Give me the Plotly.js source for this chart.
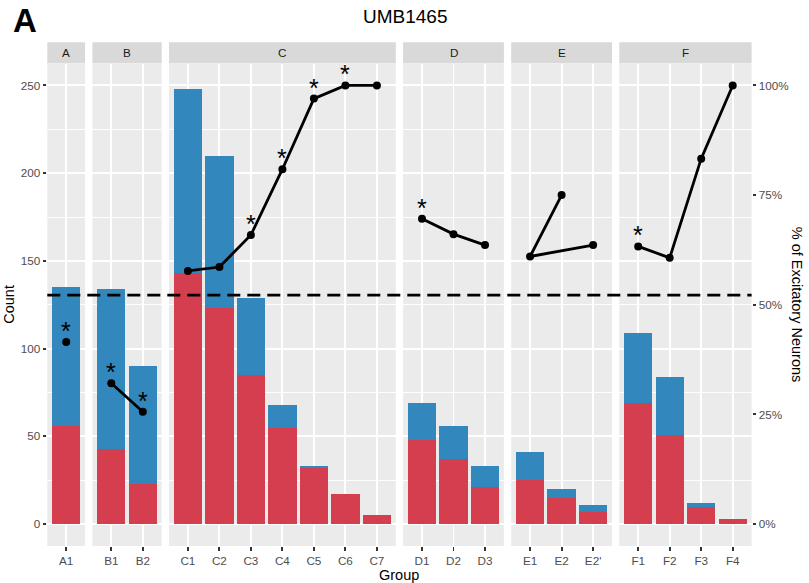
<!DOCTYPE html>
<html>
<head>
<meta charset="utf-8">
<script src="https://cdn.plot.ly/plotly-3.0.1.min.js"></script>
<style>html,body{margin:0;padding:0;background:#fff;}#chart{width:809px;height:583px;}</style>
</head>
<body>
<div id="chart"></div>
<script>
// ---- data ----
const panels = ['A', 'B', 'C', 'D', 'E', 'F'];
const categories = [
  ['A1'],
  ['B1', 'B2'],
  ['C1', 'C2', 'C3', 'C4', 'C5', 'C6', 'C7'],
  ['D1', 'D2', 'D3'],
  ['E1', 'E2', "E2'"],
  ['F1', 'F2', 'F3', 'F4']
];
// red (bottom) segment counts
const redCounts = [
  [56],
  [43, 23],
  [143, 123, 85, 55, 32, 17, 5],
  [48, 37, 21],
  [25, 15, 7],
  [69, 51, 10, 3]
];
// blue (top) segment counts
const blueCounts = [
  [79],
  [91, 67],
  [105, 87, 44, 13, 1, 0, 0],
  [21, 19, 12],
  [16, 5, 4],
  [40, 33, 2, 0]
];
// % of excitatory neurons (line), in drawing order
const lineCats = [
  ['A1'],
  ['B1', 'B2'],
  ['C1', 'C2', 'C3', 'C4', 'C5', 'C6', 'C7'],
  ['D1', 'D2', 'D3'],
  ['E2', 'E1', "E2'"],
  ['F1', 'F2', 'F3', 'F4']
];
const pctExcitatory = [
  [41.5],
  [32.1, 25.6],
  [57.7, 58.6, 65.9, 80.9, 97.0, 100, 100],
  [69.6, 66.1, 63.6],
  [75.0, 61.0, 63.6],
  [63.3, 60.7, 83.3, 100]
];
const significance = [
  ['*'],
  ['*', '*'],
  ['', '', '*', '*', '*', '*', ''],
  ['*', '', ''],
  ['', '', ''],
  ['*', '', '', '']
];
const thresholdPct = 52.2;
const countTicks = [0, 50, 100, 150, 200, 250];
const pctTicks = [0, 25, 50, 75, 100];
const pctTickText = ['0%', '25%', '50%', '75%', '100%'];

// ---- layout geometry (pixels) ----
const W = 809, H = 583;
const panelLeft = 47.3, panelRight = 751.6, gapPx = 7.3;
const plotTop = 63.5, plotBottom = 546;
const stripTop = 42.3;
const FONT = '"Liberation Sans", Arial, sans-serif';
const RED = '#D53E4F', BLUE = '#3288BD';

const units = categories.map(c => c.length + 0.2);
const totalUnits = units.reduce((a, b) => a + b, 0);
const unitPx = (panelRight - panelLeft - gapPx * (panels.length - 1)) / totalUnits;
const px2x = p => p / W;
const py2y = p => 1 - p / H;

const traces = [];
const layout = {
  width: W, height: H,
  margin: {l: 0, r: 0, t: 0, b: 0},
  paper_bgcolor: '#FFFFFF',
  plot_bgcolor: '#EBEBEB',
  barmode: 'stack',
  showlegend: false,
  font: {family: FONT, color: '#4D4D4D'},
  shapes: [],
  annotations: []
};

let cursor = panelLeft;
panels.forEach((p, i) => {
  const axId = i === 0 ? '' : String(i + 1);
  const xName = 'x' + axId;
  const wPx = units[i] * unitPx;
  const d0 = px2x(cursor), d1 = px2x(cursor + wPx);
  layout['xaxis' + axId] = {
    domain: [d0, d1],
    anchor: 'y',
    type: 'category',
    categoryorder: 'array',
    categoryarray: categories[i],
    range: [-0.6, categories[i].length - 0.4],
    showgrid: true, gridcolor: '#FFFFFF', gridwidth: 1.9,
    zeroline: false, showline: false,
    ticks: 'outside', ticklen: 3.7, tickwidth: 1.9, tickcolor: '#333333',
    tickfont: {family: FONT, size: 11.7, color: '#4D4D4D'},
    fixedrange: true, automargin: false
  };
  traces.push({
    type: 'bar', x: categories[i], y: redCounts[i], xaxis: xName, yaxis: 'y',
    marker: {color: RED, line: {width: 0}}, width: 0.9, hoverinfo: 'skip'
  });
  traces.push({
    type: 'bar', x: categories[i], y: blueCounts[i], xaxis: xName, yaxis: 'y',
    marker: {color: BLUE, line: {width: 0}}, width: 0.9, hoverinfo: 'skip'
  });
  traces.push({
    type: 'scatter', mode: 'lines+markers',
    x: lineCats[i], y: pctExcitatory[i], xaxis: xName, yaxis: 'y2',
    line: {color: '#000000', width: 2.8},
    marker: {color: '#000000', size: 8},
    cliponaxis: false, hoverinfo: 'skip'
  });
  // significance asterisks, anchored to the line points
  lineCats[i].forEach((c, j) => {
    if (!significance[i][j]) return;
    layout.annotations.push({
      text: significance[i][j], xref: xName, yref: 'y2',
      x: c, y: pctExcitatory[i][j],
      xanchor: 'center', yanchor: 'middle', yshift: 11, showarrow: false,
      font: {family: FONT, size: 25, color: '#000000'}
    });
  });
  // strip
  layout.shapes.push({
    type: 'rect', xref: 'paper', yref: 'paper',
    x0: d0, x1: d1, y0: py2y(plotTop - 0.2), y1: py2y(stripTop),
    fillcolor: '#D9D9D9', line: {width: 0}, layer: 'below'
  });
  layout.annotations.push({
    text: p, xref: 'paper', yref: 'paper', x: (d0 + d1) / 2, y: py2y((stripTop + plotTop) / 2),
    xanchor: 'center', yanchor: 'middle', showarrow: false,
    font: {family: FONT, size: 11.7, color: '#1A1A1A'}
  });
  cursor += wPx + gapPx;
});

layout.yaxis = {
  domain: [py2y(plotBottom), py2y(plotTop)],
  anchor: 'x', side: 'left',
  range: [-12.5, 262.5],
  tickmode: 'array', tickvals: countTicks,
  showgrid: true, gridcolor: '#FFFFFF', gridwidth: 1.9,
  minor: {dtick: 25, tick0: 0, showgrid: true, gridcolor: '#FFFFFF', gridwidth: 0.95, ticks: ''},
  zeroline: false, showline: false,
  ticks: 'outside', ticklen: 3.7, tickwidth: 1.9, tickcolor: '#333333',
  tickfont: {family: FONT, size: 11.7, color: '#4D4D4D'},
  fixedrange: true, automargin: false
};
layout.yaxis2 = {
  overlaying: 'y', anchor: 'x6', side: 'right',
  range: [-5, 105],
  tickmode: 'array', tickvals: pctTicks, ticktext: pctTickText,
  showgrid: false, zeroline: false, showline: false,
  ticks: 'outside', ticklen: 3.7, tickwidth: 1.9, tickcolor: '#333333',
  tickfont: {family: FONT, size: 11.7, color: '#4D4D4D'},
  fixedrange: true, automargin: false
};

// dashed threshold line across all panels
layout.shapes.push({
  type: 'line', xref: 'paper', yref: 'y2',
  x0: px2x(panelLeft), x1: px2x(panelRight), y0: thresholdPct, y1: thresholdPct,
  line: {color: '#000000', width: 2.6, dash: '13px,7px'}, layer: 'above'
});

// titles
layout.annotations.push(
  {text: 'UMB1465', xref: 'paper', yref: 'paper', x: px2x(405), y: py2y(17),
   xanchor: 'center', yanchor: 'middle', showarrow: false,
   font: {family: FONT, size: 19, color: '#000000'}},
  {text: '<b>A</b>', xref: 'paper', yref: 'paper', x: px2x(11), y: py2y(20),
   xanchor: 'left', yanchor: 'middle', showarrow: false,
   font: {family: FONT, size: 33, color: '#000000'}},
  {text: 'Count', xref: 'paper', yref: 'paper', x: px2x(9), y: py2y((plotTop + plotBottom) / 2),
   xanchor: 'center', yanchor: 'middle', showarrow: false, textangle: -90,
   font: {family: FONT, size: 14.5, color: '#000000'}},
  {text: 'Group', xref: 'paper', yref: 'paper', x: px2x((panelLeft + panelRight) / 2), y: py2y(575),
   xanchor: 'center', yanchor: 'middle', showarrow: false,
   font: {family: FONT, size: 14.5, color: '#000000'}},
  {text: '% of Excitatory Neurons', xref: 'paper', yref: 'paper', x: px2x(797), y: py2y((plotTop + plotBottom) / 2),
   xanchor: 'center', yanchor: 'middle', showarrow: false, textangle: 90,
   font: {family: FONT, size: 14.5, color: '#000000'}}
);

Plotly.newPlot('chart', traces, layout, {staticPlot: true, displayModeBar: false});
</script>
</body>
</html>
